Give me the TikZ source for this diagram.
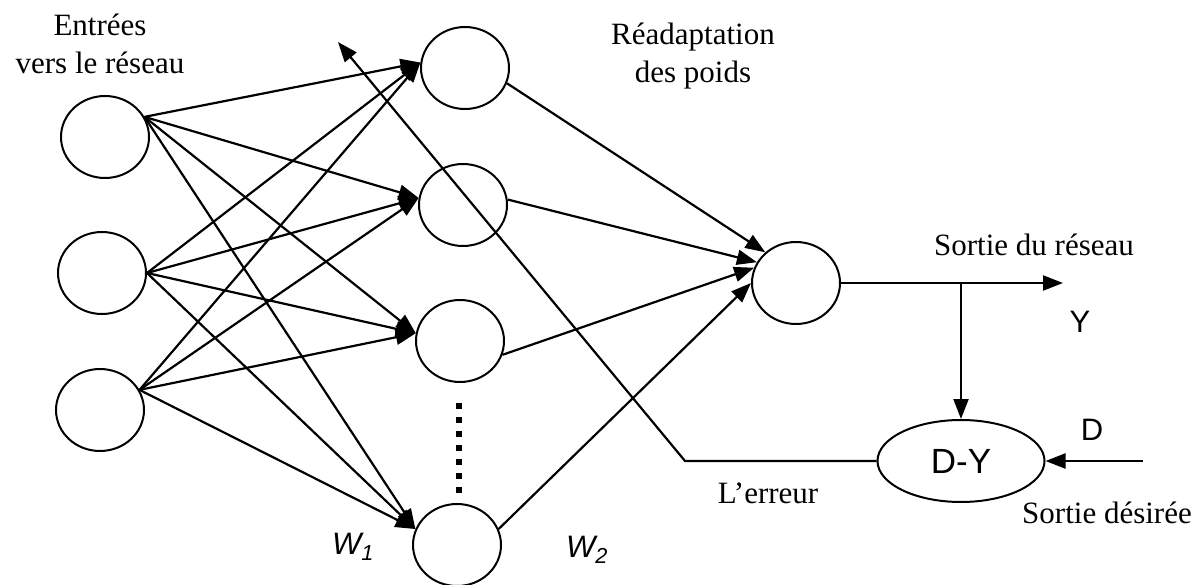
\documentclass[tikz,border=0pt]{standalone}
\usepackage{fontspec}
\setmainfont{Liberation Serif}
\setsansfont{Liberation Sans}
\usetikzlibrary{shapes.geometric,arrows.meta}
\begin{document}
\begin{tikzpicture}[x=1pt,y=-1pt,
  neuron/.style={draw,ellipse,line width=2pt,minimum width=88pt,minimum height=82pt,inner sep=0pt},
  link/.style={line width=2.2pt,-{Triangle[length=20pt,width=15pt]}},
  lab/.style={font=\fontsize{31}{38}\selectfont,align=center,inner sep=0pt},
  slab/.style={font=\fontsize{31}{38}\selectfont\sffamily,inner sep=0pt}]
\useasboundingbox (0,0) rectangle (1202,585);
% nodes
\node[neuron] (I1) at (105,137) {};
\node[neuron] (I2) at (102,273) {};
\node[neuron] (I3) at (100,410) {};
\node[neuron] (H1) at (465,68) {};
\node[neuron] (H2) at (463,205) {};
\node[neuron] (H3) at (460,341) {};
\node[neuron] (H4) at (457,545) {};
\node[neuron] (O) at (796,283) {};
\node[draw,ellipse,line width=2pt,minimum width=167pt,minimum height=82pt,inner sep=0pt,
      font=\fontsize{35}{40}\selectfont\sffamily] (DY) at (961,461) {D-Y};
% coordinates
\coordinate (Yend) at (1063,283);
\coordinate (Dstart) at (1143,461);
\coordinate (corner) at (685,461);
\coordinate (errtip) at (338,42);
\coordinate (dotA) at (459,403);
\coordinate (dotB) at (459,497);
% input -> hidden
\foreach \s/\a in {I1/27,I2/0,I3/27}{
  \draw[link] (\s.\a) -- (H1.173);
  \draw[link] (\s.\a) -- (H2.171);
  \draw[link] (\s.\a) -- (H3.170);
  \draw[link] (\s.\a) -- (H4.159);
}
% hidden -> output
\draw[link] (H1.-20) -- (O.135);
\draw[link] (H2.7) -- (O.152);
\draw[link] (H3.-18) -- (O.160);
\draw[link] (H4.21) -- (O.180);
% output
\draw[link] (O.east) -- (Yend);
\draw[link] (DY.north |- O.east) -- (DY.north);
\draw[link] (Dstart) -- (DY.east);
% error feedback
\draw[link] (DY.west) -- (corner) -- (errtip);
% dotted
\draw[line width=6pt,dash pattern=on 6pt off 8pt] (dotA) -- (dotB);
% labels
\node[lab] (tin) at (100,44) {Entrées\\vers le réseau};
\node[lab] (tre) at (693,56) {Réadaptation\\des poids};
\node[lab] (tsr) at (1034,245) {Sortie du réseau};
\node[slab] (tY) at (1080,322) {Y};
\node[slab] (tD) at (1092,430) {D};
\node[lab] (tsd) at (1107,513) {Sortie désirée};
\node[lab] (ter) at (768,493) {L’erreur};
\node[slab] (tw1) at (353,547) {\itshape W\textsubscript{1}};
\node[slab] (tw2) at (587,550) {\itshape W\textsubscript{2}};
\end{tikzpicture}
\end{document}
